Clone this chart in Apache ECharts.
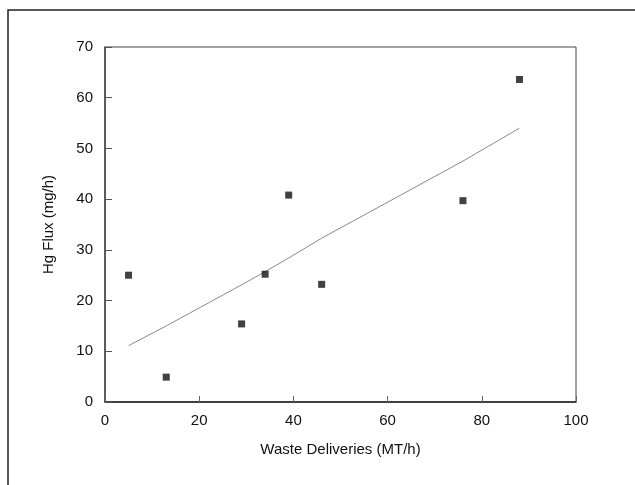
<!DOCTYPE html>
<html>
<head>
<meta charset="utf-8">
<script src="https://cdn.jsdelivr.net/npm/echarts@6/dist/echarts.min.js"></script>
<style>
  html, body { margin: 0; padding: 0; background: #fff; }
  #chart { width: 635px; height: 485px; }
</style>
</head>
<body>
<div id="chart"></div>
<script>
// measured points: waste deliveries (MT/h) vs Hg flux (mg/h)
const wasteX = [5, 13, 29, 34, 39, 46, 76, 88];
const hgFlux = [25.0, 4.9, 15.4, 25.2, 40.8, 23.2, 39.7, 63.6];
// fitted curve, read at each delivery value
const fitY = [11.1, 15.0, 23.1, 25.7, 28.4, 32.3, 47.5, 54.0];

const fontFam = '"Liberation Sans", Arial, sans-serif';

const chart = echarts.init(document.getElementById('chart'), null, { renderer: 'canvas' });

chart.setOption({
  animation: false,
  backgroundColor: '#fff',
  grid: {
    left: 105, right: 59, top: 47, bottom: 83,
    show: true, borderColor: '#444', borderWidth: 1, backgroundColor: 'transparent'
  },
  graphic: [{
    type: 'rect',
    shape: { x: 8, y: 10, width: 700, height: 600 },
    style: { fill: 'none', stroke: '#222', lineWidth: 1.5 },
    silent: true
  }],
  xAxis: {
    type: 'value', min: 0, max: 100, interval: 20,
    name: 'Waste Deliveries (MT/h)', nameLocation: 'middle', nameGap: 40,
    nameTextStyle: { color: '#111', fontSize: 15, fontFamily: fontFam },
    axisLine: { lineStyle: { color: '#222', width: 1.5 } },
    axisTick: { inside: true, length: 6, lineStyle: { color: '#666' } },
    axisLabel: { color: '#111', fontSize: 15, fontFamily: fontFam, margin: 11 },
    splitLine: { show: false }
  },
  yAxis: {
    type: 'value', min: 0, max: 70, interval: 10,
    name: 'Hg Flux (mg/h)', nameLocation: 'middle', nameGap: 49, nameRotate: 90,
    nameTextStyle: { color: '#111', fontSize: 15, fontFamily: fontFam },
    axisLine: { lineStyle: { color: '#444', width: 1.5 } },
    axisTick: { inside: true, length: 7, lineStyle: { color: '#555' } },
    axisLabel: { color: '#111', fontSize: 15, fontFamily: fontFam, margin: 12 },
    splitLine: { show: false }
  },
  series: [
    {
      type: 'line',
      data: wasteX.map((x, i) => [x, fitY[i]]),
      showSymbol: false,
      symbol: 'none',
      lineStyle: { color: '#8a8a8a', width: 1 },
      z: 2
    },
    {
      type: 'scatter',
      data: wasteX.map((x, i) => [x, hgFlux[i]]),
      symbol: 'rect',
      symbolSize: 7,
      itemStyle: { color: '#111' },
      z: 3
    }
  ]
});
</script>
</body>
</html>
